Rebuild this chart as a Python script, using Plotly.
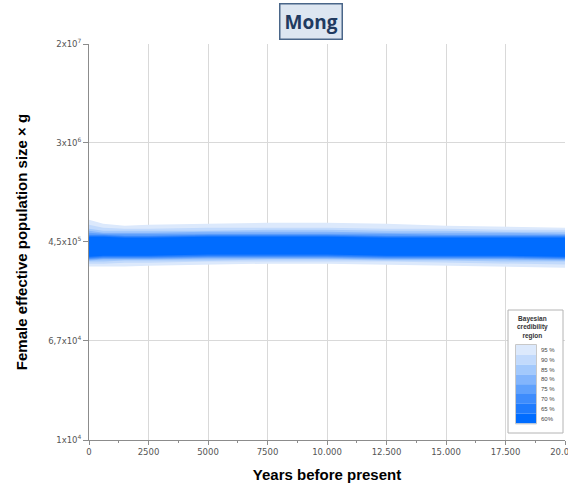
import plotly.graph_objects as go

# Time grid (years before present)
years = [0, 600, 1500, 2500, 5000, 7500, 10000, 12500, 15000, 17500, 20000]

# Upper / lower bounds of each Bayesian credibility region (Ne x g)
upper_95 = [686e3, 635e3, 612e3, 623e3, 635e3, 648e3, 648e3, 635e3, 612e3, 600e3, 589e3]
lower_95 = [279e3, 279e3, 279e3, 284e3, 290e3, 295e3, 295e3, 290e3, 284e3, 279e3, 273e3]
upper_90 = [623e3, 589e3, 577e3, 577e3, 589e3, 589e3, 589e3, 577e3, 577e3, 566e3, 566e3]
lower_90 = [295e3, 295e3, 301e3, 301e3, 307e3, 307e3, 307e3, 307e3, 301e3, 295e3, 290e3]
upper_85 = [577e3, 556e3, 556e3, 556e3, 556e3, 566e3, 566e3, 556e3, 556e3, 545e3, 545e3]
lower_85 = [307e3, 307e3, 313e3, 313e3, 313e3, 319e3, 319e3, 313e3, 313e3, 307e3, 307e3]
upper_80 = [556e3, 535e3, 535e3, 535e3, 545e3, 545e3, 545e3, 535e3, 535e3, 535e3, 525e3]
lower_80 = [313e3, 319e3, 319e3, 319e3, 325e3, 325e3, 325e3, 319e3, 319e3, 319e3, 313e3]
upper_75 = [535e3, 525e3, 525e3, 525e3, 525e3, 525e3, 525e3, 525e3, 515e3, 515e3, 515e3]
lower_75 = [319e3, 325e3, 325e3, 325e3, 331e3, 331e3, 331e3, 325e3, 325e3, 325e3, 319e3]
upper_70 = [515e3, 515e3, 505e3, 505e3, 515e3, 515e3, 515e3, 505e3, 505e3, 505e3, 505e3]
lower_70 = [325e3, 331e3, 331e3, 331e3, 337e3, 337e3, 337e3, 331e3, 331e3, 331e3, 325e3]
upper_65 = [505e3, 505e3, 495e3, 495e3, 505e3, 505e3, 505e3, 495e3, 495e3, 495e3, 495e3]
lower_65 = [331e3, 337e3, 337e3, 337e3, 344e3, 344e3, 344e3, 337e3, 337e3, 337e3, 331e3]
upper_60 = [495e3, 495e3, 486e3, 486e3, 495e3, 495e3, 495e3, 486e3, 486e3, 486e3, 486e3]
lower_60 = [337e3, 344e3, 344e3, 344e3, 351e3, 351e3, 351e3, 344e3, 344e3, 344e3, 337e3]

levels = ["95 %", "90 %", "85 %", "80 %", "75 %", "70 %", "65 %", "60%"]
uppers = [upper_95, upper_90, upper_85, upper_80, upper_75, upper_70, upper_65, upper_60]
lowers = [lower_95, lower_90, lower_85, lower_80, lower_75, lower_70, lower_65, lower_60]
colors = ["#dce9fc", "#c2dafc", "#a3c9fc", "#83b5fc", "#60a1fc", "#3e8cfc", "#1f7bfd", "#006cff"]

x_ticks = [0, 2500, 5000, 7500, 10000, 12500, 15000, 17500, 20000]
x_labels = ["0", "2500", "5000", "7500", "10.000", "12.500", "15.000", "17.500", "20.000"]
y_ticks = [1e4, 6.7e4, 4.5e5, 3e6, 2e7]
y_labels = ["1x10<sup>4</sup>", "6,7x10<sup>4</sup>", "4,5x10<sup>5</sup>",
            "3x10<sup>6</sup>", "2x10<sup>7</sup>"]

fig = go.Figure()

# Nested credibility bands, widest first
for name, up, lo, col in zip(levels, uppers, lowers, colors):
    fig.add_trace(go.Scatter(
        x=years + years[::-1],
        y=up + lo[::-1],
        fill="toself", fillcolor=col,
        line=dict(width=0),
        mode="lines", name=name, hoverinfo="skip", showlegend=False,
    ))

axis_font = dict(family="DejaVu Sans", size=8.5, color="#555555")

fig.update_xaxes(
    range=[0, 20000], tickvals=x_ticks, ticktext=x_labels,
    ticklabeloverflow="allow", automargin=False,
    showgrid=True, gridcolor="#d9d9d9", gridwidth=1,
    showline=True, linecolor="#8c8c8c", linewidth=1,
    ticks="outside", ticklen=4, tickcolor="#8c8c8c",
    minor=dict(dtick=1250, ticks="outside", ticklen=2, tickcolor="#8c8c8c", showgrid=False),
    tickfont=axis_font, zeroline=False,
    title=dict(text="<b>Years before present</b>",
               font=dict(family="Liberation Sans", size=15, color="#000000"),
               standoff=14),
)
fig.update_yaxes(
    type="log", range=[4, 7.30103], tickvals=y_ticks, ticktext=y_labels,
    automargin=False,
    showgrid=True, gridcolor="#d9d9d9", gridwidth=1,
    showline=True, linecolor="#8c8c8c", linewidth=1,
    ticks="outside", ticklen=5, tickcolor="#8c8c8c",
    tickfont=axis_font, zeroline=False,
    title=dict(text="<b>Female effective population size × g</b>",
               font=dict(family="Liberation Sans", size=15, color="#000000"),
               standoff=16),
)

# Legend box for the credibility regions
px_w, px_h = 476.0, 396.0
def px_x(p):
    return (p - 89) / px_w
def px_y(p):
    return (440 - p) / px_h

shapes = [dict(type="rect", xref="paper", yref="paper",
               x0=px_x(508), x1=px_x(563), y0=px_y(433), y1=px_y(310),
               line=dict(color="#b4b4b4", width=1), fillcolor="#ffffff", layer="above")]
sw_top, sw_h = 345.0, 9.8
annotations = [dict(text="<b>Bayesian<br>credibility<br>region</b>", xref="paper", yref="paper",
                    x=px_x(532), y=px_y(327.5), showarrow=False,
                    font=dict(family="Liberation Sans", size=6.5, color="#333333"),
                    xanchor="center", yanchor="middle")]
for i, (name, col) in enumerate(zip(levels, colors)):
    t = sw_top + i * sw_h
    shapes.append(dict(type="rect", xref="paper", yref="paper",
                       x0=px_x(516), x1=px_x(536), y0=px_y(t + sw_h), y1=px_y(t),
                       line=dict(width=0), fillcolor=col, layer="above"))
    annotations.append(dict(text=name, xref="paper", yref="paper",
                            x=px_x(539), y=px_y(t + sw_h / 2), showarrow=False,
                            xanchor="left", yanchor="middle",
                            font=dict(family="Liberation Sans", size=6, color="#444444")))
shapes.append(dict(type="rect", xref="paper", yref="paper",
                   x0=px_x(515.5), x1=px_x(536.5), y0=px_y(sw_top + 8 * sw_h + 0.5), y1=px_y(sw_top - 0.5),
                   line=dict(color="#c8c8c8", width=1), layer="above"))

# Population name box
annotations.append(dict(text="<b>Mong</b>", xref="paper", yref="paper",
                        x=px_x(310.5), y=px_y(21.5), showarrow=False,
                        xanchor="center", yanchor="middle",
                        font=dict(family="Open Sans", size=19, color="#1f3a60"),
                        bgcolor="#dde6f1", bordercolor="#4a6689", borderwidth=1.5,
                        borderpad=4))

fig.update_layout(
    width=568, height=483,
    margin=dict(l=89, r=3, t=44, b=43),
    plot_bgcolor="#ffffff", paper_bgcolor="#ffffff",
    shapes=shapes, annotations=annotations, showlegend=False,
)

fig.write_html("out.html")
